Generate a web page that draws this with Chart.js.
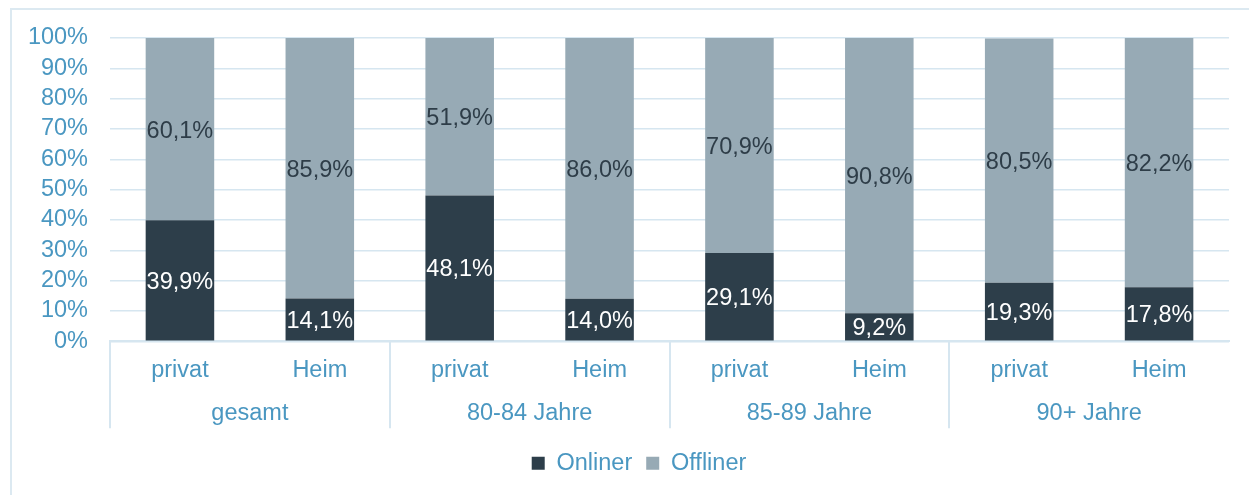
<!DOCTYPE html>
<html>
<head>
<meta charset="utf-8">
<script src="https://cdn.jsdelivr.net/npm/chart.js@4.4.1/dist/chart.umd.min.js"></script>
<style>
  html, body { margin: 0; padding: 0; background: #ffffff; overflow: hidden; }
  #frame { position: absolute; left: 10px; top: 8px; width: 1400px; height: 700px;
           border-top: 2px solid #DCE9F1; border-left: 2px solid #DCE9F1; box-sizing: border-box; }
  #wrap { position: absolute; left: 0; top: 0; width: 1249px; height: 495px; }
</style>
</head>
<body>
<div id="frame"></div>
<div id="wrap"><canvas id="c" width="1249" height="495"></canvas></div>
<script>
const categories = ['privat', 'Heim', 'privat', 'Heim', 'privat', 'Heim', 'privat', 'Heim'];
const groups = ['gesamt', '80-84 Jahre', '85-89 Jahre', '90+ Jahre'];
const onliner = [39.9, 14.1, 48.1, 14.0, 29.1, 9.2, 19.3, 17.8];
const offliner = [60.1, 85.9, 51.9, 86.0, 70.9, 90.8, 80.5, 82.2];
const yTicks = [0, 10, 20, 30, 40, 50, 60, 70, 80, 90, 100];

const DARK = '#2D3E4A';
const LIGHT = '#97AAB5';
const BLUE = '#4A97C1';
const LINE = '#D6E6F0';
const FS = 23.5;

Chart.defaults.font.family = "'Liberation Sans', Arial, sans-serif";
Chart.defaults.font.size = FS;

const valueLabels = {
  id: 'valueLabels',
  afterLayout(chart) {
    if (chart.legend) { chart.legend.left += 21.5; chart.legend.right += 21.5; }
  },
  afterDatasetsDraw(chart) {
    const ctx = chart.ctx;
    ctx.save();
    ctx.font = FS + "px 'Liberation Sans', Arial, sans-serif";
    ctx.textAlign = 'center';
    ctx.textBaseline = 'middle';
    chart.data.datasets.forEach((ds, di) => {
      const meta = chart.getDatasetMeta(di);
      meta.data.forEach((el, i) => {
        const v = ds.data[i];
        const p = el.getProps(['x', 'y', 'base'], true);
        ctx.fillStyle = di === 0 ? '#FFFFFF' : '#2E3D48';
        ctx.fillText(v.toFixed(1).replace('.', ',') + '%', p.x, (p.y + p.base) / 2 + 2);
      });
    });
    ctx.restore();
  }
};

new Chart(document.getElementById('c'), {
  type: 'bar',
  data: {
    labels: categories,
    datasets: [
      { label: 'Onliner', data: onliner, backgroundColor: DARK, borderWidth: 0,
        categoryPercentage: 1, barPercentage: 0.49 },
      { label: 'Offliner', data: offliner, backgroundColor: LIGHT, borderWidth: 0,
        categoryPercentage: 1, barPercentage: 0.49 }
    ]
  },
  options: {
    responsive: false,
    animation: false,
    devicePixelRatio: 1,
    layout: { padding: { left: 6, right: 20, top: 38, bottom: 10 } },
    plugins: {
      legend: {
        position: 'bottom',
        labels: { color: BLUE, boxWidth: 13, boxHeight: 13, padding: 14,
                  font: { size: FS } }
      },
      tooltip: { enabled: false }
    },
    scales: {
      y: {
        stacked: true,
        min: 0, max: 100,
        afterBuildTicks: s => { s.ticks = yTicks.map(v => ({ value: v })); },
        afterFit: s => { s.width = 104; },
        ticks: { color: BLUE, padding: 22, autoSkip: false, callback: v => v + '%', font: { size: FS } },
        grid: { color: LINE, lineWidth: 1.5, drawTicks: false },
        border: { display: false }
      },
      x: {
        stacked: true,
        position: 'bottom',
        offset: true,
        ticks: { color: BLUE, mirror: true, padding: -43.1, autoSkip: false, maxRotation: 0, font: { size: FS } },
        grid: { offset: true, drawOnChartArea: false, drawTicks: true, tickLength: 87, lineWidth: 2,
                color: c => (c.index % 2 === 0 ? LINE : 'rgba(0,0,0,0)') },
        border: { display: true, color: LINE, width: 2 }
      },
      x2: {
        type: 'category',
        labels: groups,
        position: 'bottom',
        offset: true,
        ticks: { color: BLUE, padding: 10.15, autoSkip: false, maxRotation: 0, font: { size: FS } },
        grid: { offset: true, drawOnChartArea: false, drawTicks: true, tickLength: 46.95, color: 'rgba(0,0,0,0)' },
        border: { display: false }
      }
    }
  },
  plugins: [valueLabels]
});
</script>
</body>
</html>
